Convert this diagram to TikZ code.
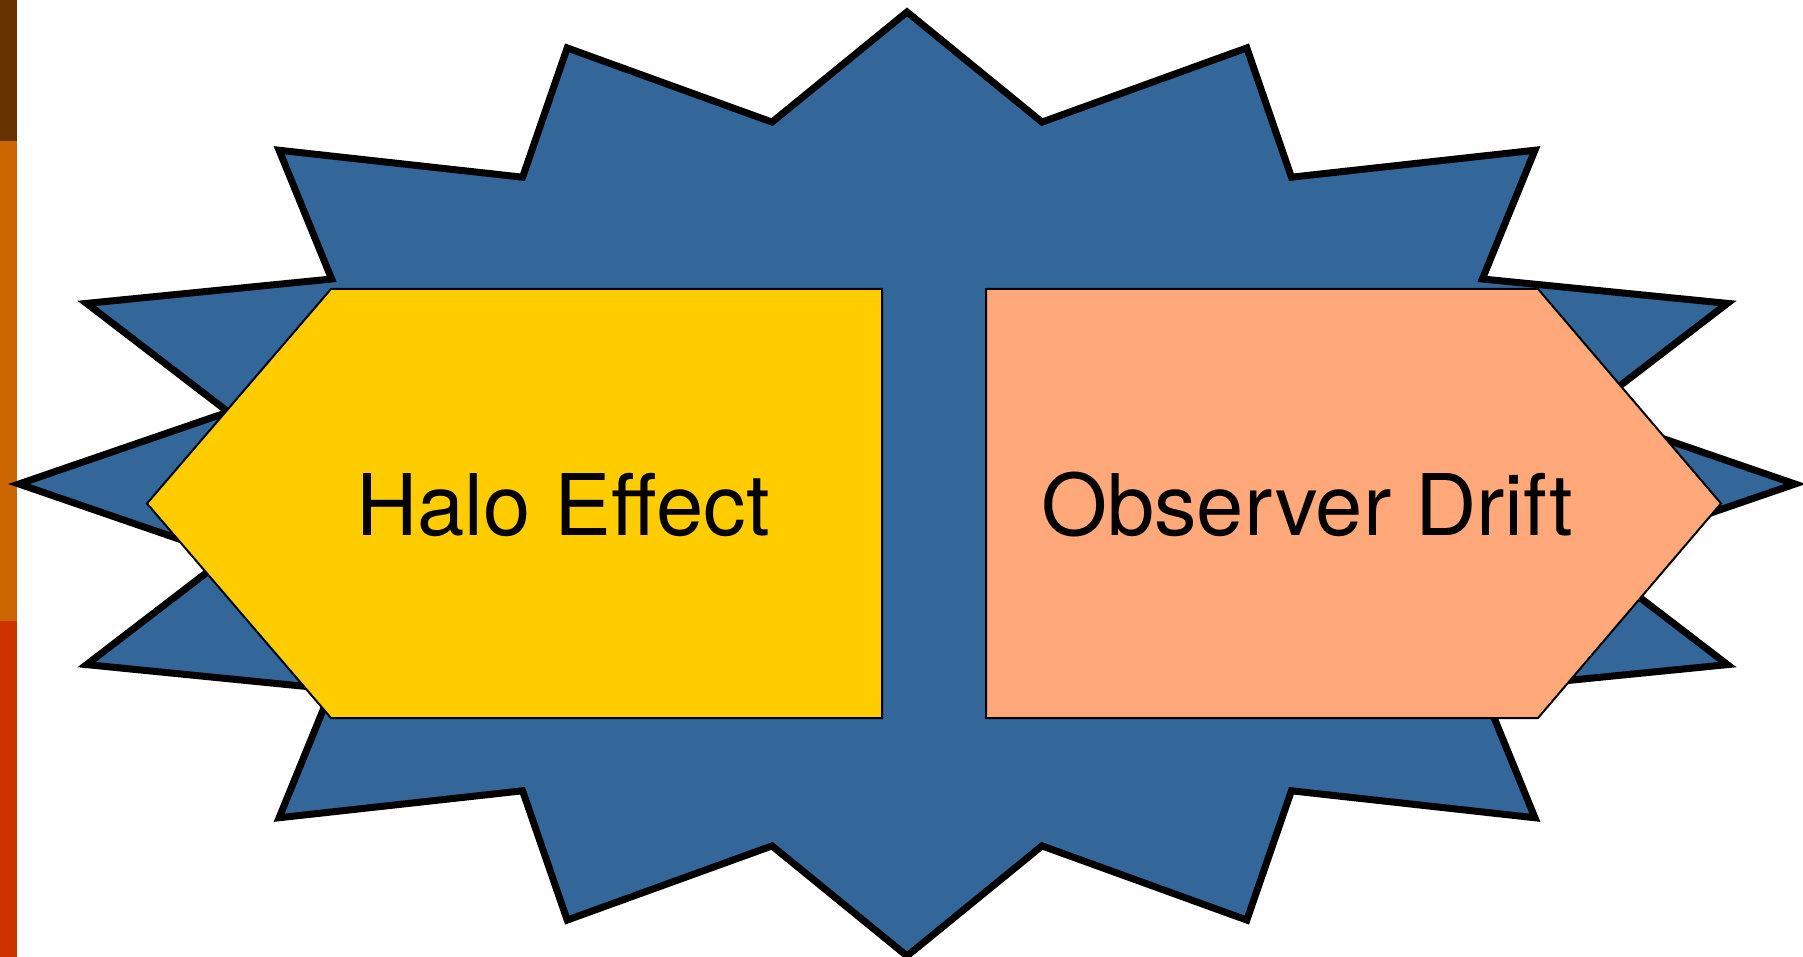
\documentclass[tikz,border=0pt]{standalone}
\usepackage{fontspec}
\setmainfont{TeX Gyre Heros}
\definecolor{barbrown}{HTML}{663300}
\definecolor{barorange}{HTML}{CC6600}
\definecolor{barred}{HTML}{CC3300}
\definecolor{burstblue}{HTML}{336699}
\definecolor{haloyellow}{HTML}{FFCC00}
\definecolor{driftsalmon}{HTML}{FFA87A}
\tikzset{
  burst/.style={draw=black, line width=7pt, line join=miter, fill=burstblue},
  pentabox/.style={draw=black, line width=2pt, line join=miter},
  label/.style={font=\fontsize{85}{100}\selectfont, text=black, inner sep=0pt, anchor=base}
}
\begin{document}
\begin{tikzpicture}[x=1pt,y=-1pt]
\useasboundingbox (0,0) rectangle (1803,957);
\fill[barbrown] (0,0) rectangle (17,141);
\fill[barorange] (0,141) rectangle (17,621);
\fill[barred] (0,621) rectangle (17,957);
\def\cx{907}\def\cy{484}
\def\rxo{888}\def\ryo{472}
\def\rxi{692}\def\ryi{369}
\draw[burst] ({\cx+\rxo},\cy)
  \foreach \k in {0,...,14} {
    -- ({\cx+\rxi*cos(22.5*\k+11.25)},{\cy-\ryi*sin(22.5*\k+11.25)})
    -- ({\cx+\rxo*cos(22.5*\k+22.5)},{\cy-\ryo*sin(22.5*\k+22.5)})
  }
  -- ({\cx+\rxi*cos(348.75)},{\cy-\ryi*sin(348.75)}) -- cycle;
\draw[pentabox, fill=haloyellow] (331,289) -- (882,289) -- (882,718) -- (331,718) -- (147,503.5) -- cycle;
\draw[pentabox, fill=driftsalmon] (986,289) -- (1538,289) -- (1721,503.5) -- (1538,718) -- (986,718) -- cycle;
\node[label] (halo) at (563,535) {Halo Effect};
\node[label] (drift) at (1307,535) {Observer Drift};
\end{tikzpicture}
\end{document}
